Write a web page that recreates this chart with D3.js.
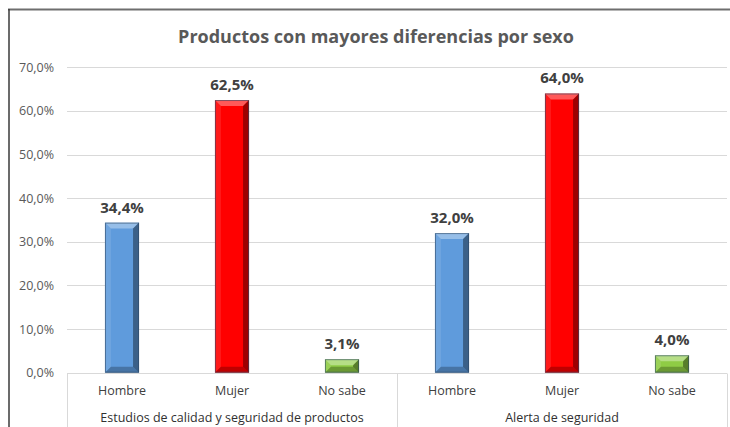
<!DOCTYPE html>
<html>
<head>
<meta charset="utf-8">
<script src="https://cdn.jsdelivr.net/npm/d3@7"></script>
<style>
  html, body { margin: 0; padding: 0; background: #ffffff; }
  svg { display: block; }
  text { font-family: "Open Sans", "Noto Sans", sans-serif; }
</style>
</head>
<body>
<div id="chart"></div>
<script>
// Survey answers grouped by product topic
const groups = ["Estudios de calidad y seguridad de productos", "Alerta de seguridad"];
const answers = ["Hombre", "Mujer", "No sabe"];
const valuesEstudios = [34.4, 62.5, 3.1];
const valuesAlerta = [32.0, 64.0, 4.0];
const yTicks = [0, 10, 20, 30, 40, 50, 60, 70];
const barColors = ["#5f9bdc", "#ff0000", "#8fcc45"];

const seriesByGroup = [valuesEstudios, valuesAlerta];

const W = 730, H = 427;
const plot = { left: 67, right: 727, top: 67.3, bottom: 372.7 };

const svg = d3.select("#chart").append("svg")
  .attr("width", W).attr("height", H);

// chart frame
svg.append("line").attr("x1", 8).attr("x2", W).attr("y1", 9.5).attr("y2", 9.5)
  .attr("stroke", "#6e6e6e").attr("stroke-width", 2);
svg.append("line").attr("x1", 9).attr("x2", 9).attr("y1", 9).attr("y2", H)
  .attr("stroke", "#3a3a3a").attr("stroke-width", 1.5);

svg.append("text")
  .attr("x", 376).attr("y", 43)
  .attr("text-anchor", "middle")
  .attr("font-size", 18).attr("font-weight", "bold")
  .attr("fill", "#595959")
  .text("Productos con mayores diferencias por sexo");

const y = d3.scaleLinear().domain([0, 70]).range([plot.bottom, plot.top]);
const xGroup = d3.scaleBand().domain(groups).range([plot.left, plot.right]);
const xAns = d3.scaleBand().domain(answers).range([0, xGroup.bandwidth()]).paddingInner(0.69).paddingOuter(0.345);

// gridlines
svg.append("g").selectAll("line").data(yTicks.filter(d => d > 0)).join("line")
  .attr("x1", plot.left).attr("x2", plot.right)
  .attr("y1", d => Math.round(y(d)) + 0.5).attr("y2", d => Math.round(y(d)) + 0.5)
  .attr("stroke", "#d9d9d9").attr("stroke-width", 1);

// y axis labels
const yAxis = d3.axisLeft(y).tickValues(yTicks)
  .tickFormat(d => d3.format(".1f")(d).replace(".", ",") + "%")
  .tickSize(0).tickPadding(13);
const yg = svg.append("g").attr("transform", `translate(${plot.left},0)`).call(yAxis);
yg.select(".domain").remove();
yg.selectAll("text").attr("font-size", 12.5).attr("fill", "#595959")
  .attr("font-family", "'Open Sans', sans-serif");

// category axis with group separators
const axisCol = "#d9d9d9";
const baseY = Math.round(plot.bottom) + 0.5;
svg.append("line").attr("x1", plot.left).attr("x2", plot.right)
  .attr("y1", baseY).attr("y2", baseY).attr("stroke", axisCol);
const seps = [plot.left, xGroup(groups[1]), plot.right];
svg.append("g").selectAll("line").data(seps).join("line")
  .attr("x1", d => Math.round(d) + 0.5).attr("x2", d => Math.round(d) + 0.5)
  .attr("y1", baseY).attr("y2", H).attr("stroke", axisCol);

const g = svg.append("g");
groups.forEach((grp, gi) => {
  const gx = xGroup(grp);
  const vals = seriesByGroup[gi];
  answers.forEach((a, ai) => {
    const v = vals[ai];
    const x0 = gx + xAns(a), w = xAns.bandwidth();
    const y0 = y(v), y1 = y(0), h = y1 - y0;
    const b = Math.min(6, h / 2, w / 2);
    const bar = g.append("g");
    bar.append("rect").attr("x", x0).attr("y", y0).attr("width", w).attr("height", h)
      .attr("fill", barColors[ai]);
    const faces = [
      { pts: [[x0, y0], [x0 + w, y0], [x0 + w - b, y0 + b], [x0 + b, y0 + b]], fill: "#ffffff", op: 0.35 },
      { pts: [[x0, y0], [x0 + b, y0 + b], [x0 + b, y1 - b], [x0, y1]], fill: "#ffffff", op: 0.1 },
      { pts: [[x0 + w, y0], [x0 + w, y1], [x0 + w - b, y1 - b], [x0 + w - b, y0 + b]], fill: "#000000", op: 0.38 },
      { pts: [[x0, y1], [x0 + b, y1 - b], [x0 + w - b, y1 - b], [x0 + w, y1]], fill: "#000000", op: 0.25 }
    ];
    faces.forEach(f => bar.append("polygon")
      .attr("points", f.pts.map(p => p.join(",")).join(" "))
      .attr("fill", f.fill).attr("fill-opacity", f.op));
    bar.append("rect").attr("x", x0 + 0.5).attr("y", y0 + 0.5).attr("width", w - 1).attr("height", h - 1)
      .attr("fill", "none").attr("stroke", "#2f4a66").attr("stroke-opacity", 0.6).attr("stroke-width", 1);

    g.append("text").attr("x", x0 + w / 2).attr("y", y0 - 10)
      .attr("text-anchor", "middle").attr("font-size", 15).attr("font-weight", "bold")
      .attr("fill", "#404040").text(d3.format(".1f")(v).replace(".", ",") + "%");

    g.append("text").attr("x", x0 + w / 2).attr("y", 395)
      .attr("text-anchor", "middle").attr("font-size", 12.5)
      .attr("fill", "#404040").text(a);
  });
  g.append("text").attr("x", gx + xGroup.bandwidth() / 2).attr("y", 422)
    .attr("text-anchor", "middle").attr("font-size", 12.5)
    .attr("fill", "#303030").text(grp);
});
</script>
</body>
</html>
